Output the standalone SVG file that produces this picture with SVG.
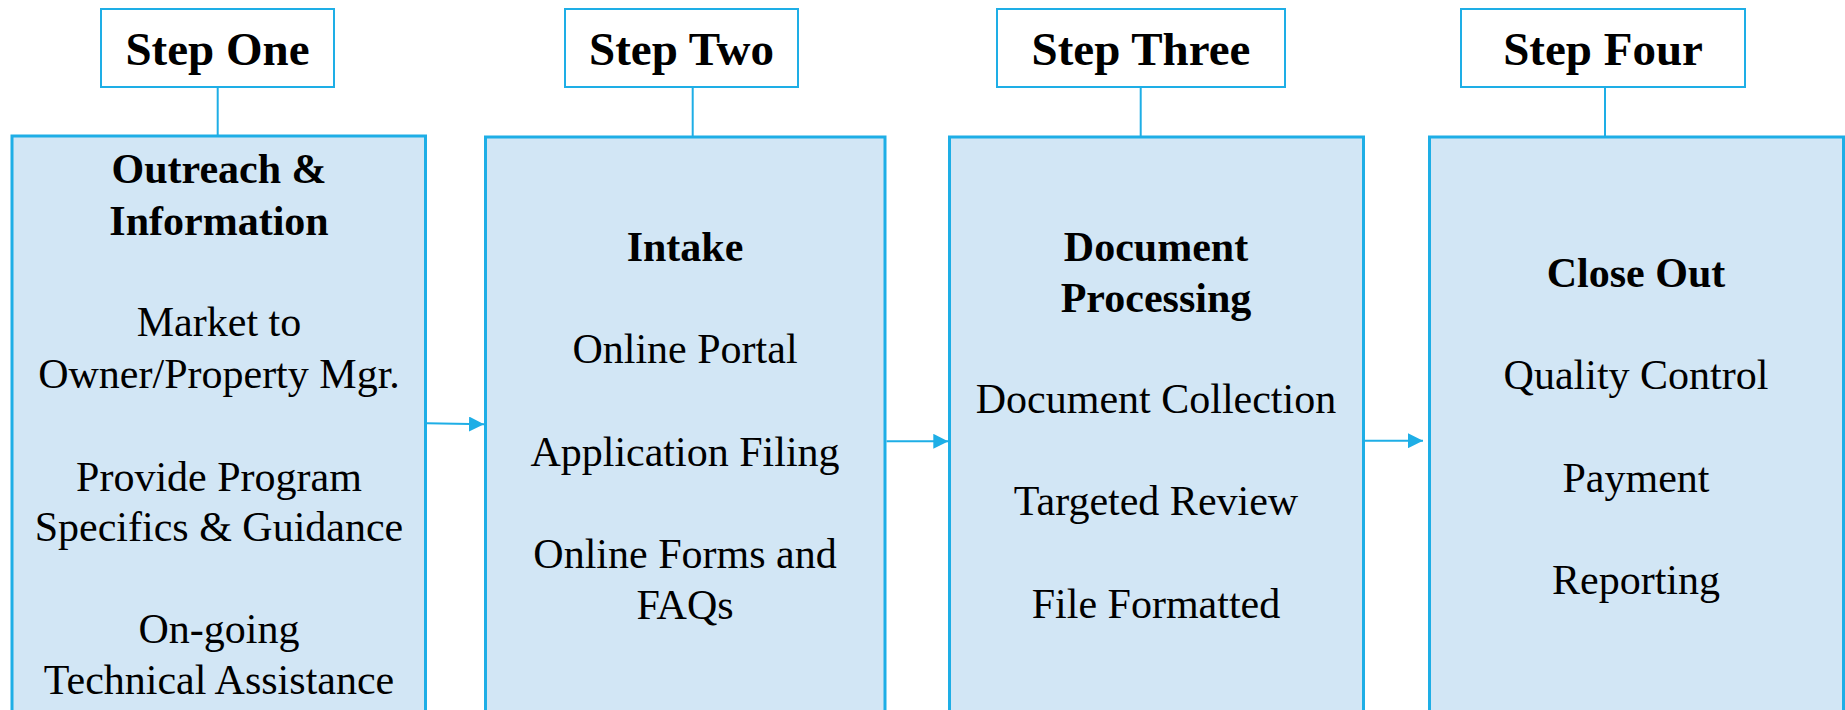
<svg xmlns="http://www.w3.org/2000/svg" width="1845" height="710" viewBox="0 0 1845 710">
  <style>
    .step { fill: #ffffff; stroke: #1EAEE6; stroke-width: 2; }
    .panel { fill: #D2E6F5; stroke: #1EAEE6; stroke-width: 3; }
    .tick { stroke: #1EAEE6; stroke-width: 2; fill: none; }
    .flow { stroke: #1EAEE6; stroke-width: 2; fill: none; }
    text { font-family: "Liberation Serif", "Times New Roman", serif; fill: #000000; text-anchor: middle; }
    .st { font-size: 47px; font-weight: bold; }
    .hd { font-size: 42px; font-weight: bold; }
    .it { font-size: 42px; }
  </style>
  <defs>
    <marker id="arrowhead" markerUnits="userSpaceOnUse" markerWidth="15" markerHeight="15" refX="15" refY="7.5" orient="auto">
      <path d="M0,0 L15,7.5 L0,15 z" fill="#1EAEE6"/>
    </marker>
  </defs>

  <rect width="1845" height="710" fill="#ffffff"/>

  <!-- Stage 1 -->
  <g id="step-one">
    <rect class="step" x="101" y="9" width="233" height="78"/>
    <text class="st" x="217.5" y="65">Step One</text>
    <line class="tick" x1="217.7" y1="87" x2="217.7" y2="136"/>
    <rect class="panel" x="12" y="136" width="413.5" height="600"/>
    <text class="hd" x="219" y="183">Outreach &amp;</text>
    <text class="hd" x="219" y="235">Information</text>
    <text class="it" x="219" y="336">Market to</text>
    <text class="it" x="219" y="388">Owner/Property Mgr.</text>
    <text class="it" x="219" y="491">Provide Program</text>
    <text class="it" x="219" y="541">Specifics &amp; Guidance</text>
    <text class="it" x="219" y="643">On-going</text>
    <text class="it" x="219" y="694">Technical Assistance</text>
  </g>

  <!-- Stage 2 -->
  <g id="step-two">
    <rect class="step" x="565" y="9" width="233" height="78"/>
    <text class="st" x="681.5" y="65">Step Two</text>
    <line class="tick" x1="692.7" y1="87" x2="692.7" y2="137"/>
    <rect class="panel" x="485.5" y="137" width="399.5" height="600"/>
    <text class="hd" x="685" y="261">Intake</text>
    <text class="it" x="685" y="363">Online Portal</text>
    <text class="it" x="685" y="466">Application Filing</text>
    <text class="it" x="685" y="568">Online Forms and</text>
    <text class="it" x="685" y="619">FAQs</text>
  </g>

  <!-- Stage 3 -->
  <g id="step-three">
    <rect class="step" x="997" y="9" width="288" height="78"/>
    <text class="st" x="1141" y="65">Step Three</text>
    <line class="tick" x1="1140.7" y1="87" x2="1140.7" y2="137"/>
    <rect class="panel" x="949.5" y="137" width="414" height="600"/>
    <text class="hd" x="1156" y="261">Document</text>
    <text class="hd" x="1156" y="312">Processing</text>
    <text class="it" x="1156" y="413">Document Collection</text>
    <text class="it" x="1156" y="515">Targeted Review</text>
    <text class="it" x="1156" y="618">File Formatted</text>
  </g>

  <!-- Stage 4 -->
  <g id="step-four">
    <rect class="step" x="1461" y="9" width="284" height="78"/>
    <text class="st" x="1603" y="65">Step Four</text>
    <line class="tick" x1="1605" y1="87" x2="1605" y2="137"/>
    <rect class="panel" x="1429.5" y="137" width="414" height="600"/>
    <text class="hd" x="1636" y="287">Close Out</text>
    <text class="it" x="1636" y="389">Quality Control</text>
    <text class="it" x="1636" y="492">Payment</text>
    <text class="it" x="1636" y="594">Reporting</text>
  </g>

  <!-- Flow between stages -->
  <g id="connectors">
    <line class="flow" x1="427" y1="423.3" x2="484" y2="424.3" marker-end="url(#arrowhead)"/>
    <line class="flow" x1="886.5" y1="441.3" x2="948.3" y2="441.3" marker-end="url(#arrowhead)"/>
    <line class="flow" x1="1365" y1="440.7" x2="1423" y2="440.7" marker-end="url(#arrowhead)"/>
  </g>
</svg>
